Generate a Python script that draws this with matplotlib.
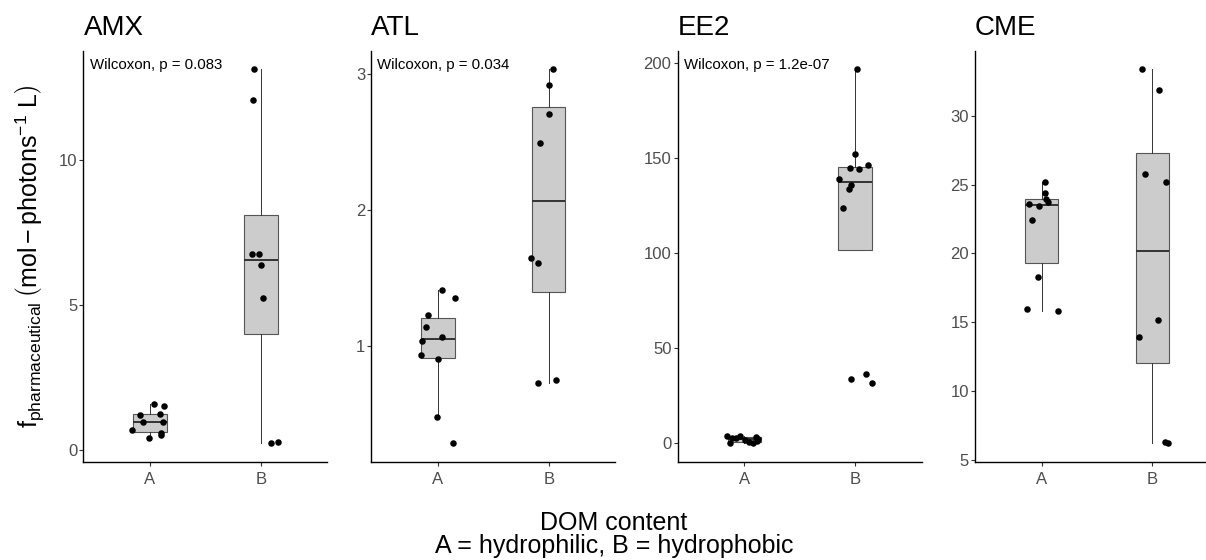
import numpy as np
import matplotlib.pyplot as plt
from matplotlib.ticker import MultipleLocator

plt.rcParams['font.family'] = ['Liberation Sans', 'DejaVu Sans']
plt.rcParams['mathtext.fontset'] = 'custom'
plt.rcParams['mathtext.rm'] = 'Liberation Sans'
plt.rcParams['mathtext.it'] = 'Liberation Sans:italic'
plt.rcParams['mathtext.bf'] = 'Liberation Sans:bold'

# Fármacos e grupos de DOM (A = hidrofílico, B = hidrofóbico)
farmacos = ['AMX', 'ATL', 'EE2', 'CME']
grupos = ['A', 'B']

# f_pharmaceutical medido em cada amostra
amx_a = [1.58, 1.53, 1.26, 1.20, 0.97, 0.97, 0.69, 0.60, 0.54, 0.42]
amx_b = [13.10, 12.06, 6.76, 6.74, 6.36, 5.23, 0.29, 0.25]
atl_a = [1.41, 1.35, 1.23, 1.14, 1.066, 1.04, 0.935, 0.905, 0.475, 0.286]
atl_b = [3.035, 2.92, 2.705, 2.49, 1.65, 1.61, 0.747, 0.728]
ee2_a = [3.9, 3.6, 3.3, 2.8, 2.5, 2.0, 1.8, 1.2, 0.6, 0.3, 0.1]
ee2_b = [196.8, 152.1, 146.4, 145.1, 144.1, 138.9, 135.8, 133.7, 123.8, 36.2, 34.0, 31.8]
cme_a = [25.19, 24.39, 23.98, 23.73, 23.57, 23.45, 22.39, 18.28, 15.98, 15.79]
cme_b = [33.37, 31.87, 25.76, 25.20, 15.14, 13.92, 6.29, 6.21]

dados = [(amx_a, amx_b), (atl_a, atl_b), (ee2_a, ee2_b), (cme_a, cme_b)]

# Resultado do teste de Wilcoxon (CME sem rótulo)
p_valores = ['0.083', '0.034', '1.2e-07', None]

# Espaçamento dos ticks do eixo y
passos_y = [5, 1, 50, 5]

cinza_txt = '#4d4d4d'
rng = np.random.default_rng(7)

fig = plt.figure(figsize=(12.06, 5.6), dpi=100)
esquerdas = [0.0692, 0.3079, 0.5619, 0.8085]

for i, nome in enumerate(farmacos):
    ax = fig.add_axes([esquerdas[i], 0.1755, 0.2023, 0.734])
    a, b = dados[i]

    ax.boxplot([a, b], positions=[1, 2], widths=0.3, patch_artist=True,
               showfliers=False, showcaps=False,
               boxprops=dict(facecolor='#cccccc', edgecolor='#555555', linewidth=0.8),
               whiskerprops=dict(color='#333333', linewidth=0.7),
               medianprops=dict(color='#333333', linewidth=1.4))

    for pos, valores in zip([1, 2], [a, b]):
        x = pos + rng.uniform(-0.16, 0.16, len(valores))
        ax.scatter(x, valores, s=22, color='black', zorder=3, linewidths=0)

    todos = np.concatenate([a, b])
    lo, hi = todos.min(), todos.max()
    margem = 0.05 * (hi - lo)
    ax.set_ylim(lo - margem, hi + margem)
    ax.set_xlim(0.4, 2.6)
    ax.set_xticks([1, 2])
    ax.set_xticklabels(grupos)
    ax.yaxis.set_major_locator(MultipleLocator(passos_y[i]))

    for lado in ['top', 'right']:
        ax.spines[lado].set_visible(False)
    for lado in ['left', 'bottom']:
        ax.spines[lado].set_linewidth(1.0)
        ax.spines[lado].set_color('black')
    ax.tick_params(axis='both', length=3, width=0.8, color='#333333',
                   labelcolor=cinza_txt, labelsize=12)
    ax.tick_params(axis='y', pad=1.5)
    ax.tick_params(axis='x', pad=4.5)

    ax.set_title(nome, loc='left', fontsize=20, pad=11)
    if p_valores[i] is not None:
        ax.text(0.025, 0.965, f'Wilcoxon, p = {p_valores[i]}', transform=ax.transAxes,
                fontsize=10.8, ha='left', va='center')

# Rótulos comuns dos eixos
fig.text(0.025, 0.543,
         r'$\mathrm{f}_{\mathrm{pharmaceutical}}\,\left(\mathrm{mol} - \mathrm{photons}^{-1}\ \mathrm{L}\right)$',
         rotation=90, fontsize=18, ha='center', va='center')
fig.text(0.509, 0.046, 'DOM content\nA = hydrophilic, B = hydrophobic',
         fontsize=18, ha='center', va='center', linespacing=0.95)

plt.savefig('out.png', dpi=100)
